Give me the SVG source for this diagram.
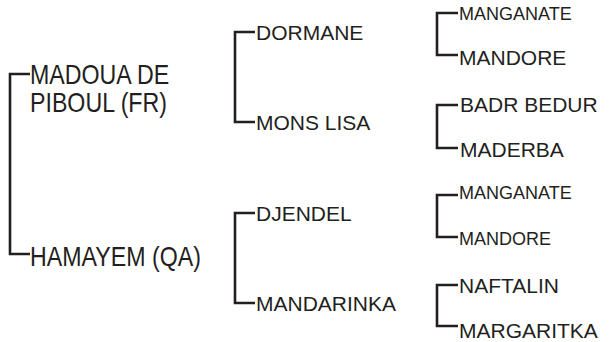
<svg xmlns="http://www.w3.org/2000/svg" width="610" height="342" viewBox="0 0 610 342">
<style>
.c{fill:none;stroke:#231f20;stroke-width:2.6;stroke-linejoin:miter}
text{font-family:"Liberation Sans",Arial,sans-serif;fill:#231f20}
.l1{font-size:23.2px}
.l2{font-size:21px}
.l3{font-size:21px}
.s{font-size:18px}
</style>
<rect width="610" height="342" fill="#fff"/>
<g id="connectors">
<path class="c" d="M30,74 H10 V254 H30"/>
<path class="c" d="M255,32 H235 V122 H255"/>
<path class="c" d="M255,213 H235 V303 H255"/>
<path class="c" d="M458,13 H437 V55 H458"/>
<path class="c" d="M458,105 H437 V148 H458"/>
<path class="c" d="M458,195 H437 V237 H458"/>
<path class="c" d="M458,285 H437 V326 H458"/>
</g>
<g id="madoua"><text class="l1" transform="translate(30,84) scale(1,1.17)">MADOUA DE</text><text class="l1" transform="translate(30,112) scale(1,1.17)">PIBOUL (FR)</text></g>
<g id="hamayem"><text class="l1" transform="translate(30,266) scale(1,1.17)">HAMAYEM (QA)</text></g>
<g id="dormane"><text class="l2" x="256" y="40">DORMANE</text></g>
<g id="monslisa"><text class="l2" x="256" y="130">MONS LISA</text></g>
<g id="djendel"><text class="l2" x="256" y="221">DJENDEL</text></g>
<g id="mandarinka"><text class="l2" x="256" y="311">MANDARINKA</text></g>
<g id="manganate1"><text class="s" x="459" y="20">MANGANATE</text></g>
<g id="mandore1"><text class="l3" x="459" y="65">MANDORE</text></g>
<g id="badrbedur"><text class="l3" x="460" y="112">BADR BEDUR</text></g>
<g id="maderba"><text class="l3" x="460" y="157">MADERBA</text></g>
<g id="manganate2"><text class="s" x="459" y="199">MANGANATE</text></g>
<g id="mandore2"><text class="s" x="459" y="245">MANDORE</text></g>
<g id="naftalin"><text class="l3" x="459" y="293">NAFTALIN</text></g>
<g id="margaritka"><text class="l3" x="459" y="338">MARGARITKA</text></g>
</svg>
